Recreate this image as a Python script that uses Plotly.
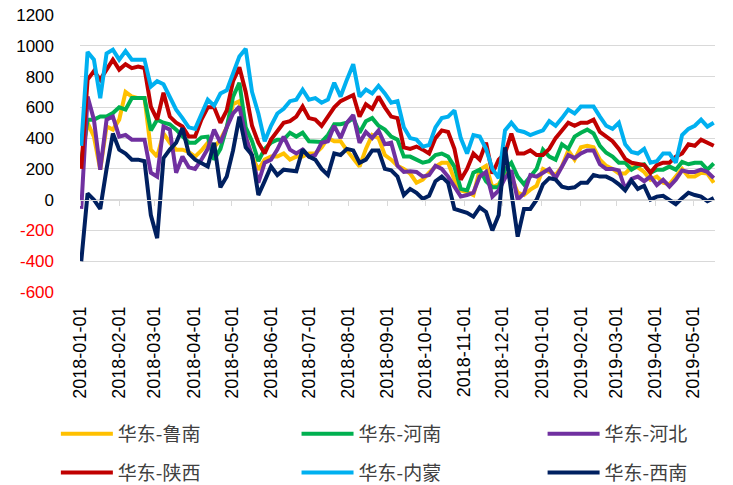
import plotly.graph_objects as go
import pandas as pd

# sample dates (every 5 days)
dates = pd.date_range("2018-01-02", periods=101, freq="5D")

lunan = [240, 500, 410, 195, 475, 455, 520, 700, 670, 660, 660, 325, 280, 430, 370, 325, 325, 310,
         280, 320, 370, 340, 390, 470, 620, 640, 410, 280, 195, 260, 280, 280, 300, 260, 280,
         280, 300, 300, 340, 400, 380, 380, 320, 270, 215, 330, 420, 400, 290, 260, 220, 200,
         170, 110, 130, 175, 215, 240, 240, 130, 60, 50, 30, 195, 220, 80, 100, 170, 150,
         45, 30, 65, 90, 200, 180, 160, 215, 320, 260, 340, 350, 340, 260, 220, 200, 170,
         170, 210, 210, 180, 130, 150, 110, 100, 150, 200, 150, 150, 175, 170, 110]

henan = [250, 520, 520, 540, 540, 563, 600, 585, 660, 660, 660, 450, 520, 500, 490, 455, 410, 370,
         370, 405, 410, 260, 330, 470, 670, 760, 470, 380, 250, 330, 370, 390, 390, 435, 410,
         435, 380, 380, 375, 420, 490, 490, 500, 530, 435, 510, 530, 480, 455, 410, 390, 280,
         280, 260, 240, 250, 290, 300, 280, 215, 70, 60, 175, 195, 120, 80, 80, 195, 240,
         150, 100, 150, 200, 325, 280, 260, 360, 330, 410, 435, 455, 430, 350, 305, 280, 240,
         240, 195, 220, 230, 175, 195, 195, 215, 195, 245, 230, 240, 240, 195, 235]

hebei = [-60, 670, 520, 195, 520, 540, 410, 420, 390, 390, 390, 175, 150, 475, 455, 175, 280, 210,
         200, 260, 330, 455, 370, 470, 560, 605, 410, 280, 110, 240, 260, 325, 410, 325, 300,
         325, 280, 290, 370, 380, 480, 400, 500, 550, 370, 440, 400, 450, 360, 370, 220, 180,
         185, 180, 150, 160, 220, 200, 150, 85, 20, 30, 45, 150, 180, 20, 60, 140, 190,
         0, 40, 160, 150, 175, 200, 140, 215, 290, 270, 300, 320, 320, 230, 200, 200, 190,
         70, 135, 150, 120, 150, 95, 130, 85, 130, 190, 180, 180, 195, 180, 140]

shaanxi = [200, 780, 835, 780, 845, 910, 845, 880, 855, 865, 855, 605, 520, 695, 540, 500, 475, 410,
           410, 520, 600, 600, 500, 580, 770, 860, 700, 480, 370, 300, 390, 450, 500, 510, 540,
           605, 530, 520, 480, 540, 600, 640, 660, 680, 540, 620, 590, 670, 600, 540, 530, 340,
           330, 345, 325, 300, 400, 450, 440, 330, 130, 200, 300, 260, 370, 170, 260, 300, 430,
           300, 300, 320, 290, 290, 330, 400, 450, 500, 480, 500, 500, 520, 440, 410, 380, 330,
           265, 240, 230, 225, 175, 225, 240, 240, 280, 300, 360, 350, 390, 370, 350]

neimeng = [350, 960, 910, 660, 950, 975, 910, 965, 910, 910, 910, 735, 770, 750, 660, 585, 530, 470,
           460, 560, 650, 610, 690, 710, 820, 930, 980, 700, 560, 380, 480, 560, 590, 640, 650,
           715, 650, 660, 630, 650, 760, 670, 780, 880, 670, 715, 690, 740, 690, 630, 640, 470,
           400, 390, 345, 355, 470, 530, 540, 580, 400, 300, 420, 410, 330, 200, 140, 450, 500,
           450, 440, 420, 435, 450, 510, 480, 530, 585, 560, 605, 605, 605, 540, 480, 460, 500,
           360, 310, 300, 330, 240, 250, 300, 300, 240, 420, 460, 480, 520, 475, 500]

xinan = [-400, 40, 0, -60, 200, 430, 325, 300, 260, 260, 250, -100, -250, 270, 325, 370, 465, 300,
         260, 240, 215, 370, 80, 150, 320, 540, 340, 290, 30, 120, 215, 160, 195, 190, 185,
         325, 280, 260, 200, 160, 300, 290, 330, 320, 240, 260, 320, 320, 200, 190, 150, 30,
         70, 45, 5, 25, 120, 150, 110, -60, -70, -85, -110, -50, -80, -200, -100, 340, 50,
         -240, -60, -60, 0, 100, 140, 130, 85, 75, 80, 110, 110, 160, 150, 150, 130, 100,
         60, 125, 70, 90, 0, 20, 25, 0, -30, 10, 45, 30, 20, -10, 10]

names = ["华东-鲁南", "华东-河南", "华东-河北", "华东-陕西", "华东-内蒙", "华东-西南"]
values = [lunan, henan, hebei, shaanxi, neimeng, xinan]
colors = ["#FFC000", "#00B050", "#7030A0", "#C00000", "#00B0F0", "#002060"]
legends = ["legend", "legend2", "legend3", "legend", "legend2", "legend3"]

y_ticks = list(range(-600, 1201, 200))
y_text = [f'<span style="color:#FF0000">{v}</span>' if v < 0 else str(v) for v in y_ticks]

fig = go.Figure()
for name, vals, col, lg in zip(names, values, colors, legends):
    fig.add_trace(go.Scatter(x=dates, y=vals, name=name, mode="lines",
                             line=dict(color=col, width=4), legend=lg,
                             legendgroup=name))

# helper axis at y=0 for tick marks
fig.add_trace(go.Scatter(x=[dates[0]], y=[None], xaxis="x2", showlegend=False,
                         hoverinfo="skip"))

legend_common = dict(orientation="v", yanchor="top", xanchor="left",
                     font=dict(family="Noto Sans CJK SC", size=19, color="#404040"),
                     bgcolor="rgba(0,0,0,0)", tracegroupgap=11, traceorder="grouped",
                     itemwidth=52)

fig.update_layout(
    width=733, height=485,
    margin=dict(l=80, r=18, t=15, b=193, autoexpand=False),
    paper_bgcolor="white", plot_bgcolor="white",
    font=dict(family="Liberation Sans", color="#000000"),
    xaxis=dict(type="date", range=["2018-01-01", "2019-05-18"],
               tick0="2018-01-01", dtick="M1", tickformat="%Y-%m-%d",
               tickangle=-90, showgrid=False, zeroline=False, showline=False,
               ticks="", ticklabelstandoff=10, automargin=False,
               tickfont=dict(family="Liberation Sans", size=18, color="#000000")),
    xaxis2=dict(type="date", overlaying="x", matches="x", anchor="free",
                position=1/3, side="bottom", showticklabels=False, showgrid=False,
                zeroline=False, showline=True, linecolor="#D9D9D9", linewidth=1,
                ticks="outside", ticklen=5, tickcolor="#D9D9D9", tickwidth=1,
                tick0="2018-01-01", dtick="M1"),
    yaxis=dict(range=[-600, 1200], tickvals=y_ticks, ticktext=y_text,
               showgrid=True, gridcolor="#D9D9D9", gridwidth=1, zeroline=False,
               showline=False, ticks="", ticklabelstandoff=25, automargin=False,
               tickfont=dict(family="Liberation Sans", size=17, color="#000000")),
    legend=dict(x=-0.038, y=-0.444, **legend_common),
    legend2=dict(x=0.341, y=-0.444, **legend_common),
    legend3=dict(x=0.7285, y=-0.444, **legend_common),
    showlegend=True,
)

fig.write_html("out.html", config={"displayModeBar": False},
               post_script="document.body.style.margin='0';document.body.style.overflow='hidden';")
